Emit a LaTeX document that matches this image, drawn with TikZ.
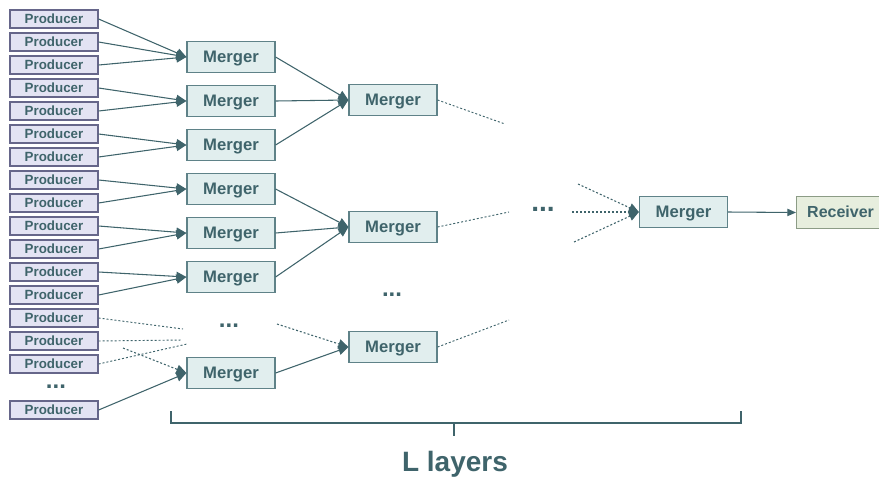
\documentclass[tikz,border=0pt]{standalone}
\usepackage{fontspec}
\setmainfont{Liberation Sans}
\usetikzlibrary{arrows.meta}
\definecolor{ink}{HTML}{3F646B}
\definecolor{prodfill}{HTML}{E3E3F3}
\definecolor{prodline}{HTML}{66668A}
\definecolor{mergefill}{HTML}{E1EEEE}
\definecolor{mergeline}{HTML}{5F8288}
\definecolor{recfill}{HTML}{E7EEDE}
\definecolor{recline}{HTML}{8C9C86}
\begin{document}
\begin{tikzpicture}[x=0.75pt,y=-0.75pt,
  prod/.style={draw=prodline, fill=prodfill, line width=0.9pt, minimum width=66pt, minimum height=13.5pt, inner sep=0pt, text height=7.2pt, text depth=0pt, text=ink, font=\fontsize{10}{12}\selectfont\bfseries},
  merger/.style={draw=mergeline, fill=mergefill, line width=0.9pt, minimum width=66pt, minimum height=23.5pt, inner sep=0pt, text height=8.4pt, text depth=0pt, text=ink, font=\fontsize{12.5}{14}\selectfont\bfseries},
  recv/.style={draw=recline, fill=recfill, line width=0.9pt, minimum width=70pt, minimum height=23.5pt, inner sep=0pt, text height=8.2pt, text depth=0pt, text=ink, font=\fontsize{12}{14}\selectfont\bfseries},
  link/.style={draw=ink, line width=0.8pt, -{Triangle[length=7.5pt,width=7pt]}},
  dlink/.style={link, dash pattern=on 1.5pt off 1.5pt},
  dline/.style={draw=ink, line width=0.7pt, dash pattern=on 1.5pt off 1.5pt},
  dots/.style={text=ink, inner sep=0pt, font=\fontsize{18}{20}\selectfont\bfseries},
  bigdots/.style={dots, font=\fontsize{21}{22}\selectfont\bfseries},
  brace/.style={draw=ink, line width=0.8pt}
]
\useasboundingbox (0,0) rectangle (879,476);

% producers
\foreach \i in {1,...,16}
  \node[prod] (p\i) at (54, {19+23*(\i-1)}) {Producer};
\node[prod] (p17) at (54,410) {Producer};
\node[dots] (pd) at (56,387) {...};

% layer 1 mergers
\node[merger] (m1) at (231,57) {Merger};
\node[merger] (m2) at (231,101) {Merger};
\node[merger] (m3) at (231,145) {Merger};
\node[merger] (m4) at (231,189) {Merger};
\node[merger] (m5) at (231,233) {Merger};
\node[merger] (m6) at (231,277) {Merger};
\node[merger] (m7) at (231,373) {Merger};
\node[dots] (d1) at (229,326) {...};

% layer 2 mergers
\node[merger] (n1) at (393,100) {Merger};
\node[merger] (n2) at (393,227) {Merger};
\node[merger] (n3) at (393,347) {Merger};
\node[dots] (d2) at (392,295) {...};

% final
\node[bigdots] (d3) at (543,209) {...};
\node[merger] (f) at (683.5,212) {Merger};
\node[recv, anchor=west] (r) at (796,212.5) {\hspace*{-4pt}Receiver};

% producer -> layer 1
\foreach \a/\b in {1/1,2/1,3/1,4/2,5/2,6/3,7/3,8/4,9/4,10/5,11/5,12/6,13/6,17/7}
  \draw[link] (p\a.east) -- (m\b.west);

% dotted from producers
\coordinate (e14) at (183,329);
\coordinate (e15) at (182,340);
\coordinate (e16) at (187,344);
\coordinate (s7) at (123,348);
\draw[dline] (p14.east) -- (e14);
\draw[dline] (p15.east) -- (e15);
\draw[dline] (p16.east) -- (e16);
\draw[dlink] (s7) -- (m7.west);

% layer 1 -> layer 2
\foreach \a/\b in {1/1,2/1,3/1,4/2,5/2,6/2,7/3}
  \draw[link] (m\a.east) -- (n\b.west);
\coordinate (c1) at (277,324);
\draw[dlink] (c1) -- (n3.west);

% layer 2 -> beyond
\coordinate (o1) at (505,124);
\coordinate (o2) at (509,212);
\coordinate (o3) at (509,320);
\draw[dline] (n1.east) -- (o1);
\draw[dline] (n2.east) -- (o2);
\draw[dline] (n3.east) -- (o3);

% into final merger
\coordinate (i1) at (578,184);
\coordinate (i2) at (572,212);
\coordinate (i3) at (574,242);
\draw[dlink] (i1) -- (f.west);
\draw[dlink] (i2) -- (f.west);
\draw[dlink] (i3) -- (f.west);

\draw[draw=ink, line width=0.8pt, -{Triangle[length=6.5pt,width=5.5pt]}] (f.east) -- (r.west);

% bracket
\coordinate (b1) at (171,411);
\coordinate (b2) at (171,423);
\coordinate (b3) at (741,423);
\coordinate (b4) at (741,411);
\coordinate (bt) at (454,423);
\coordinate (bb) at (454,436);
\draw[brace] (b1) -- (b2) -- (b3) -- (b4);
\draw[brace] (bt) -- (bb);
\node[text=ink, inner sep=0pt, font=\fontsize{21}{24}\selectfont\bfseries] (lab) at (455,464) {L layers};
\end{tikzpicture}
\end{document}
